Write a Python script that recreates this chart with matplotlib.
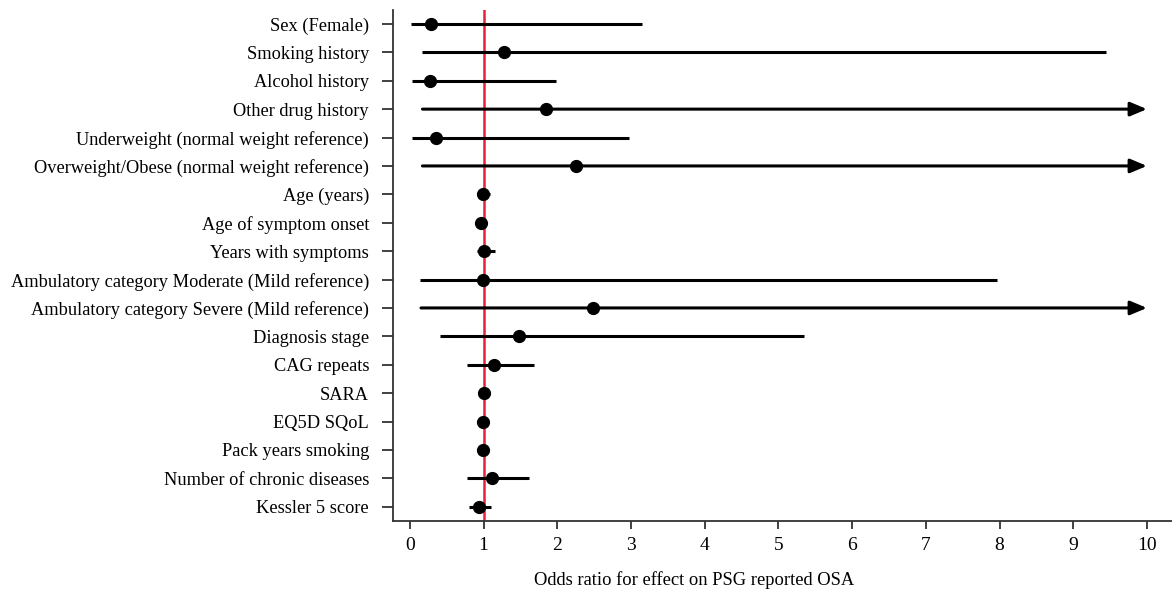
import matplotlib
matplotlib.use("Agg")
import matplotlib.pyplot as plt
import numpy as np

labels = [
    "Sex (Female)",
    "Smoking history",
    "Alcohol history",
    "Other drug history",
    "Underweight (normal weight reference)",
    "Overweight/Obese (normal weight reference)",
    "Age (years)",
    "Age of symptom onset",
    "Years with symptoms",
    "Ambulatory category Moderate (Mild reference)",
    "Ambulatory category Severe (Mild reference)",
    "Diagnosis stage",
    "CAG repeats",
    "SARA",
    "EQ5D SQoL",
    "Pack years smoking",
    "Number of chronic diseases",
    "Kessler 5 score",
]
odds = [0.29, 1.28, 0.27, 1.84, 0.36, 2.25, 0.99, 0.97, 1.01, 0.99, 2.49, 1.48, 1.14, 1.01, 0.99, 0.99, 1.12, 0.94]
lower = [0.01, 0.17, 0.03, 0.17, 0.03, 0.17, 0.95, 0.95, 0.91, 0.13, 0.15, 0.41, 0.77, 0.98, 0.97, 0.97, 0.77, 0.80]
upper = [3.15, 9.45, 1.98, 10.0, 2.97, 10.0, 1.08, 0.99, 1.16, 7.97, 10.0, 5.35, 1.69, 1.04, 1.01, 1.01, 1.62, 1.10]
truncated = [False, False, False, True, False, True, False, False, False, False, True, False, False, False, False, False, False, False]
xticks = list(range(0, 11))

plt.rcParams['font.family'] = ['Liberation Serif', 'DejaVu Serif']

fig = plt.figure(figsize=(11.72, 5.96), dpi=100)
ax = fig.add_axes([0.335, 0.1264, 0.665, 0.8568])

y = np.arange(len(labels))
ax.axvline(1, color='#e8203a', lw=1.8, zorder=1)
for i in range(len(labels)):
    if truncated[i]:
        ax.annotate('', xy=(upper[i], y[i]), xytext=(lower[i], y[i]),
                    arrowprops=dict(arrowstyle='-|>,head_length=1.0,head_width=0.42',
                                    color='black', lw=2.2, shrinkA=0, shrinkB=0),
                    zorder=2)
    else:
        ax.plot([lower[i], upper[i]], [y[i], y[i]], color='black', lw=2.2,
                solid_capstyle='butt', zorder=2)
ax.plot(odds, y, 'o', color='black', markersize=8.5, zorder=3)

ax.set_xlim(-0.235, 10.34)
ax.set_ylim(len(labels) - 0.51, -0.49)
ax.set_yticks(y)
ax.set_yticklabels(labels, fontsize=13.25)
ax.set_xticks(xticks)
ax.set_xticklabels([str(t) for t in xticks], fontsize=14)
ax.tick_params(axis='y', length=8, width=1.3, pad=9, color='#333333')
ax.tick_params(axis='x', length=6, width=1.3, pad=6, color='#333333')
for s in ['top', 'right']:
    ax.spines[s].set_visible(False)
for s in ['left', 'bottom']:
    ax.spines[s].set_linewidth(1.3)
    ax.spines[s].set_color('#333333')

fig.text(694 / 1172, 1 - 580 / 596, "Odds ratio for effect on PSG reported OSA",
         ha='center', va='center', fontsize=13.3)

fig.savefig("out.png", dpi=100)
